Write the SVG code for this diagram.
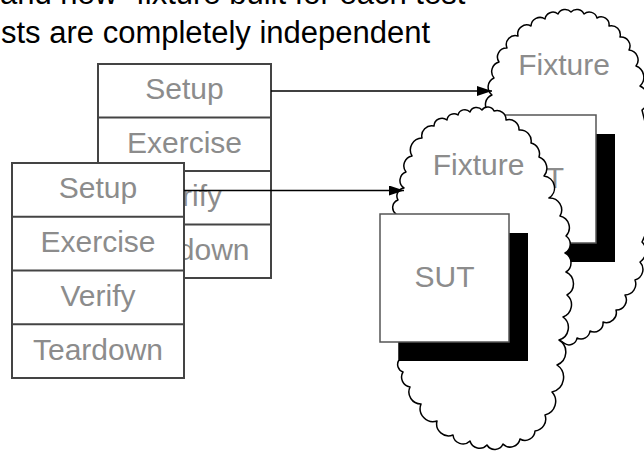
<svg xmlns="http://www.w3.org/2000/svg" width="644" height="451" viewBox="0 0 644 451">
<style>
.title{font-family:"Liberation Sans",Arial,sans-serif;font-size:31px;fill:#000}
.cell{fill:#fff;stroke:#444;stroke-width:2}
.div{stroke:#444;stroke-width:2}
.lbl{font-family:"Liberation Sans",Arial,sans-serif;font-size:30px;fill:#8c8c8c;text-anchor:middle}
.cloud{fill:#fff;stroke:#000;stroke-width:1.5;stroke-linejoin:round}
.sut{fill:#fff;stroke:#555;stroke-width:1.5}
.shadow{fill:#000}
.conn{stroke:#000;stroke-width:1.5;fill:none;marker-end:url(#arrow)}
</style>
<defs>
<marker id="arrow" markerUnits="userSpaceOnUse" markerWidth="15" markerHeight="10" refX="15" refY="5" orient="auto">
<path d="M0,0 L15,5 L0,10 z" fill="#000"/>
</marker>
</defs>
<rect width="644" height="451" fill="#fff"/>
<g id="title">
<text class="title" x="0" y="4">and new” fixture built for each test</text>
<text class="title" x="1" y="43">sts are completely independent</text>
</g>
<g id="stack-back">
<rect class="cell" x="98" y="64" width="173" height="214"/>
<line class="div" x1="98" y1="117.5" x2="271" y2="117.5"/>
<line class="div" x1="98" y1="171" x2="271" y2="171"/>
<line class="div" x1="98" y1="224.5" x2="271" y2="224.5"/>
<text class="lbl" x="184.5" y="99">Setup</text>
<text class="lbl" x="184.5" y="152.5">Exercise</text>
<text class="lbl" x="184.5" y="206">Verify</text>
<text class="lbl" x="184.5" y="259.5">Teardown</text>
</g>
<g id="stack-front">
<rect class="cell" x="12" y="163" width="172" height="215"/>
<line class="div" x1="12" y1="216.75" x2="184" y2="216.75"/>
<line class="div" x1="12" y1="270.5" x2="184" y2="270.5"/>
<line class="div" x1="12" y1="324.25" x2="184" y2="324.25"/>
<text class="lbl" x="98" y="197.5">Setup</text>
<text class="lbl" x="98" y="251.5">Exercise</text>
<text class="lbl" x="98" y="306">Verify</text>
<text class="lbl" x="98" y="359.5">Teardown</text>
</g>
<g id="fixture-back">
<path class="cloud" d="M489,112 A10,10 0 0 1 492,95 A10,10 0 0 1 494,78 A10,10 0 0 1 499,62 A9,9 0 0 1 507,48 A9,9 0 0 1 518,36 A9,9 0 0 1 531,26 A9,9 0 0 1 545,19 A8,8 0 0 1 558,14 A8,8 0 0 1 571,12 A8,8 0 0 1 584,14 A8,8 0 0 1 597,18 A8,8 0 0 1 609,26 A9,9 0 0 1 620,37 A9,9 0 0 1 629,50 A10,10 0 0 1 636,66 A12,12 0 0 1 640,86 A14,14 0 0 1 642,110 L652,150 L652,220 L642,242 A13,13 0 0 1 640,262 A11,11 0 0 1 635,280 A11,11 0 0 1 625,295 A10,10 0 0 1 616,310 A10,10 0 0 1 603,322 A9,9 0 0 1 590,331 A9,9 0 0 1 577,338 A8,8 0 0 1 564,343 L545,330 L520,200 Z"/>
<text class="lbl" x="564" y="75">Fixture</text>
<g id="sut-back">
<rect class="shadow" x="486" y="134" width="129" height="128"/>
<rect class="sut" x="467" y="115" width="129" height="128"/>
<text class="lbl" x="534" y="188">SUT</text>
</g>
</g>
<g id="fixture-front">
<path class="cloud" d="M396,214 A8,8 0 0 1 398,200 A8,8 0 0 1 404,188 A9,9 0 0 1 406,172 A10,10 0 0 1 412,156 A12,12 0 0 1 422,138 A10,10 0 0 1 434,126 A8,8 0 0 1 447,120 A7,7 0 0 1 458,115 A7,7 0 0 1 470,112 A7,7 0 0 1 482,110 A7,7 0 0 1 494,111 A9,9 0 0 1 506,120 A10,10 0 0 1 519,130 A11,11 0 0 1 531,143 A11,11 0 0 1 539,157 A12,12 0 0 1 544,176 A12,12 0 0 1 549,198 A12,12 0 0 1 560,216 A12,12 0 0 1 566,236 A10,10 0 0 1 565,253 A11,11 0 0 1 566,272 A13,13 0 0 1 567,295 A13,13 0 0 1 563,317 A13,13 0 0 1 559,340 A14,14 0 0 1 557,365 A15,15 0 0 1 552,392 A14,14 0 0 1 545,415 A12,12 0 0 1 535,431 A10,10 0 0 1 520,439 A10,10 0 0 1 503,444 A9,9 0 0 1 487,445 A10,10 0 0 1 470,441 A10,10 0 0 1 453,435 A12,12 0 0 1 437,421 A13,13 0 0 1 421,404 A12,12 0 0 1 410,387 A10,10 0 0 1 403,372 A8,8 0 0 1 399,360 L399,300 L396,214 Z"/>
<text class="lbl" x="478.5" y="175">Fixture</text>
<g id="sut-front">
<rect class="shadow" x="399" y="233" width="129" height="128"/>
<rect class="sut" x="380" y="214" width="129" height="128"/>
<text class="lbl" x="444.5" y="287">SUT</text>
</g>
</g>
<g id="connectors">
<line class="conn" x1="271" y1="91" x2="492" y2="91"/>
<line class="conn" x1="184" y1="190.5" x2="404" y2="190.5"/>
</g>
</svg>
